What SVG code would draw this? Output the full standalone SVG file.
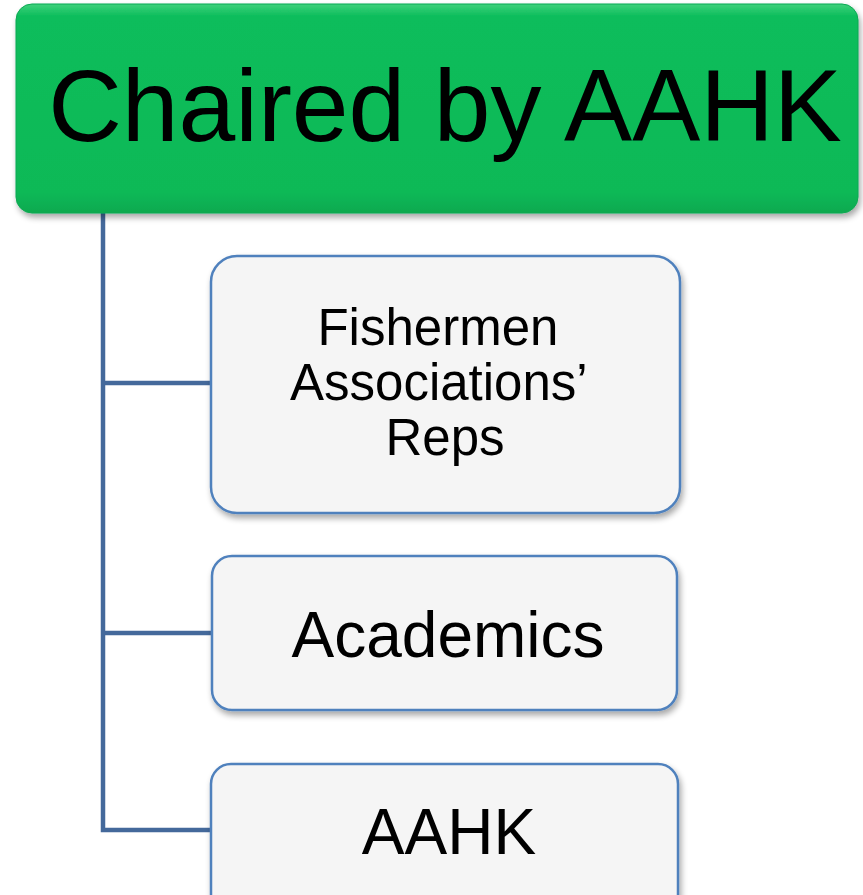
<svg xmlns="http://www.w3.org/2000/svg" width="863" height="895" viewBox="0 0 863 895">
<defs>
  <linearGradient id="gGreen" x1="0" y1="0" x2="0" y2="1">
    <stop offset="0" stop-color="#3fd17c"/>
    <stop offset="0.06" stop-color="#0bbd5b"/>
    <stop offset="0.9" stop-color="#08b957"/>
    <stop offset="1" stop-color="#07a94f"/>
  </linearGradient>
  <filter id="shadow" x="-5%" y="-5%" width="115%" height="120%">
    <feGaussianBlur in="SourceAlpha" stdDeviation="3"/>
    <feOffset dx="2" dy="4" result="b"/>
    <feComponentTransfer><feFuncA type="linear" slope="0.35"/></feComponentTransfer>
    <feMerge><feMergeNode/><feMergeNode in="SourceGraphic"/></feMerge>
  </filter>
</defs>
<style>
  .child rect { fill: #f5f5f5; stroke: #4f81bd; stroke-width: 2.5; }
  .lbl { font-family: "Liberation Sans", Arial, sans-serif; fill: #000; text-anchor: middle; }
  .conn { fill: none; stroke: #44699b; stroke-width: 4.5; }
</style>
<rect width="863" height="895" fill="#ffffff"/>

<g id="connectors">
  <path class="conn" d="M103 212 V830 H212"/>
  <path class="conn" d="M103 383 H212"/>
  <path class="conn" d="M103 633 H212"/>
</g>

<g id="root" filter="url(#shadow)">
  <rect x="16" y="4" width="842" height="209" rx="16" ry="16" fill="url(#gGreen)" stroke="#0aa852" stroke-width="1"/>
  <text class="lbl" x="445" y="141" font-size="102">Chaired by AAHK</text>
</g>

<g id="fishermen" class="child" filter="url(#shadow)">
  <rect x="211" y="256" width="469" height="257" rx="26" ry="26"/>
  <text class="lbl" font-size="51">
    <tspan x="445" y="345">Fishermen</tspan>
    <tspan x="445" y="400">Associations’</tspan>
    <tspan x="445" y="455">Reps</tspan>
  </text>
</g>

<g id="academics" class="child" filter="url(#shadow)">
  <rect x="212" y="556" width="465" height="154" rx="20" ry="20"/>
  <text class="lbl" x="448" y="657" font-size="64">Academics</text>
</g>

<g id="aahk" class="child" filter="url(#shadow)">
  <rect x="211" y="764" width="467" height="160" rx="20" ry="20"/>
  <text class="lbl" x="449" y="854" font-size="64">AAHK</text>
</g>
</svg>
